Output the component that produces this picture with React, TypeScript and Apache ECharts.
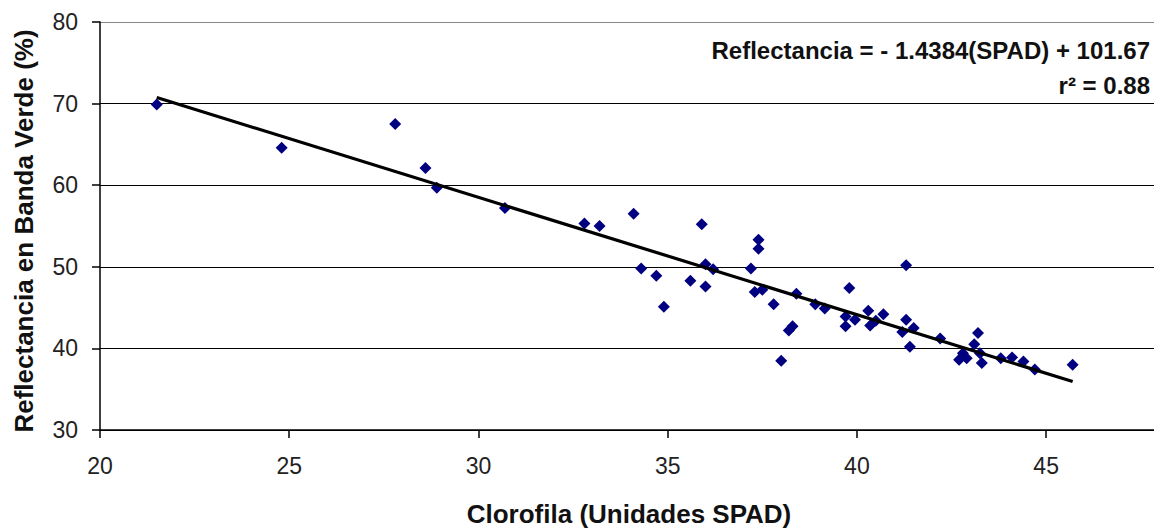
import React, { useEffect, useRef } from "react";
import * as echarts from "echarts";

// Chlorophyll meter reading (SPAD units) vs. green-band reflectance (%)
const spad: number[] = [
  21.5, 24.8, 27.8, 28.6, 28.9, 30.7, 32.8, 33.2, 34.1, 34.3, 34.7, 34.9,
  35.6, 35.9, 36.0, 36.2, 36.0, 37.2, 37.4, 37.4, 37.3, 37.5, 37.8, 38.0,
  38.3, 38.2, 38.4, 38.9, 39.15, 39.8, 39.7, 39.7, 39.95, 40.3, 40.35, 40.5,
  40.7, 41.2, 41.3, 41.3, 41.4, 41.5, 42.2, 42.7, 42.8, 42.9, 43.1, 43.2,
  43.25, 43.3, 43.8, 44.1, 44.4, 44.7, 45.7,
];
const reflectance: number[] = [
  69.9, 64.6, 67.5, 62.1, 59.7, 57.2, 55.3, 55.0, 56.5, 49.8, 48.9, 45.1,
  48.3, 55.2, 50.3, 49.7, 47.6, 49.8, 53.3, 52.2, 46.9, 47.2, 45.4, 38.5,
  42.7, 42.2, 46.7, 45.4, 44.9, 47.4, 43.9, 42.7, 43.5, 44.6, 42.8, 43.4,
  44.2, 42.0, 43.5, 50.2, 40.2, 42.5, 41.2, 38.6, 39.4, 38.8, 40.5, 41.9,
  39.4, 38.2, 38.8, 38.9, 38.4, 37.4, 38.0,
];

// Linear fit reported on the chart
const slope = -1.4384;
const intercept = 101.67;
const rSquared = 0.88;

const xTicks = [20, 25, 30, 35, 40, 45];
const yTicks = [30, 40, 50, 60, 70, 80];

export default function App() {
  const ref = useRef<HTMLDivElement>(null);

  useEffect(() => {
    if (!ref.current) return;
    const chart = echarts.init(ref.current, undefined, { renderer: "svg" });

    const points = spad.map((x, i) => [x, reflectance[i]]);
    const xMin = Math.min(...spad);
    const xMax = Math.max(...spad);
    const fit = [
      [xMin, slope * xMin + intercept],
      [xMax, slope * xMax + intercept],
    ];

    const font = "'Liberation Sans', Arial, sans-serif";

    chart.setOption({
      animation: false,
      backgroundColor: "#ffffff",
      grid: { left: 100, top: 22, right: 0, bottom: 99, containLabel: false },
      xAxis: {
        type: "value",
        min: xTicks[0],
        max: 47.85,
        interval: 5,
        axisLine: { show: true, onZero: false, lineStyle: { color: "#000", width: 1.5 } },
        axisTick: { show: true, length: 8, lineStyle: { color: "#000", width: 1.5 } },
        axisLabel: {
          showMaxLabel: false,
          color: "#222",
          fontSize: 23,
          fontFamily: font,
          margin: 24,
        },
        splitLine: { show: false },
      },
      yAxis: {
        type: "value",
        min: yTicks[0],
        max: yTicks[yTicks.length - 1],
        interval: 10,
        axisLine: { show: true, onZero: false, lineStyle: { color: "#000", width: 1.5 } },
        axisTick: { show: true, length: 8, lineStyle: { color: "#000", width: 1.5 } },
        axisLabel: {
          color: "#222",
          fontSize: 23,
          fontFamily: font,
          margin: 22,
        },
        splitLine: {
          show: true,
          lineStyle: {
            color: ["#000", "#000", "#000", "#000", "#000", "#8a8a8a"],
            width: 1.2,
          },
        },
      },
      series: [
        {
          type: "scatter",
          data: points,
          symbol: "diamond",
          symbolSize: 12,
          itemStyle: { color: "#000080", opacity: 1 },
          z: 3,
        },
        {
          type: "line",
          data: fit,
          symbol: "none",
          lineStyle: { color: "#000", width: 3.2 },
          z: 4,
        },
      ],
      graphic: [
        {
          type: "text",
          x: 24,
          y: 231,
          rotation: Math.PI / 2,
          style: {
            text: "Reflectancia en Banda Verde (%)",
            fontFamily: font,
            fontWeight: "bold",
            fontSize: 26,
            fill: "#111",
            textAlign: "center",
            textVerticalAlign: "middle",
          },
        },
        {
          type: "text",
          x: 629,
          y: 514,
          style: {
            text: "Clorofila (Unidades SPAD)",
            fontFamily: font,
            fontWeight: "bold",
            fontSize: 26,
            fill: "#111",
            textAlign: "center",
            textVerticalAlign: "middle",
          },
        },
        {
          type: "text",
          x: 1150,
          y: 50,
          style: {
            text: `Reflectancia = - ${Math.abs(slope)}(SPAD) + ${intercept}`,
            fontFamily: font,
            fontWeight: "bold",
            fontSize: 24,
            fill: "#111",
            textAlign: "right",
            textVerticalAlign: "middle",
          },
        },
        {
          type: "text",
          x: 1150,
          y: 85,
          style: {
            text: `r² = ${rSquared}`,
            fontFamily: font,
            fontWeight: "bold",
            fontSize: 24,
            fill: "#111",
            textAlign: "right",
            textVerticalAlign: "middle",
          },
        },
      ],
    });

    return () => chart.dispose();
  }, []);

  return (
    <div
      ref={ref}
      style={{ position: "absolute", left: 0, top: 0, width: 1154, height: 529 }}
    />
  );
}
